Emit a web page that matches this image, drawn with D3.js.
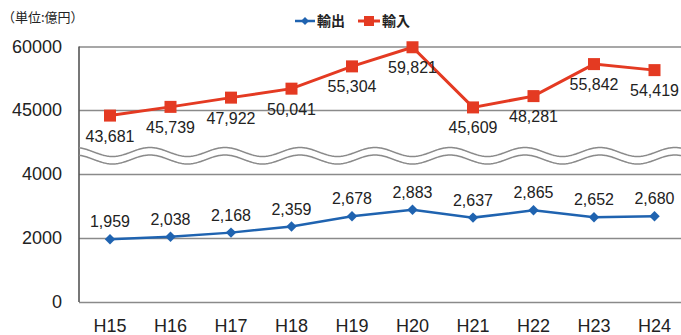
<!DOCTYPE html>
<html>
<head>
<meta charset="utf-8">
<script src="https://cdn.jsdelivr.net/npm/d3@7"></script>
<style>
  html, body { margin: 0; padding: 0; background: #fff; }
  svg { display: block; }
  text { font-family: "Liberation Sans", Arial, sans-serif; fill: #222; }
  .cjk { font-family: "Noto Sans CJK JP", "Noto Sans", sans-serif; }
</style>
</head>
<body>
<svg id="chart" width="681" height="335"></svg>
<script>
// Fiscal years (Heisei era)
const categories = ["H15", "H16", "H17", "H18", "H19", "H20", "H21", "H22", "H23", "H24"];
// Exports (輸出), 100 million yen
const exportsValues = [1959, 2038, 2168, 2359, 2678, 2883, 2637, 2865, 2652, 2680];
// Imports (輸入), 100 million yen
const importsValues = [43681, 45739, 47922, 50041, 55304, 59821, 45609, 48281, 55842, 54419];
// Axis ticks for the upper and lower (broken) segments
const upperTicks = [45000, 60000];
const lowerTicks = [0, 2000, 4000];

const svg = d3.select("#chart");
const W = 681;
const left = 79;
const blue = "#1f63b0";
const red = "#e43a22";
const gridColor = "#8a8a8a";

const x = d3.scalePoint().domain(categories).range([110, 654.5]);
const yUpper = d3.scaleLinear().domain([45000, 60000]).range([110, 46.5]);
const yLower = d3.scaleLinear().domain([0, 4000]).range([302, 174]);

const fmt = d3.format(",");

// Gridlines and tick labels via axes
function drawAxis(scale, ticks) {
  const g = svg.append("g").attr("transform", `translate(${left},0)`)
    .call(d3.axisLeft(scale).tickValues(ticks).tickSizeInner(-(W - left + 10)).tickSizeOuter(0)
      .tickPadding(17).tickFormat(d3.format("d")));
  g.select(".domain").remove();
  g.selectAll(".tick line").attr("stroke", gridColor).attr("stroke-width", 1.6);
  g.selectAll(".tick text").attr("font-size", 18).attr("fill", "#222")
    .style("font-family", "'Liberation Sans', Arial, sans-serif");
  return g;
}
drawAxis(yUpper, upperTicks);
drawAxis(yLower, lowerTicks);

// Left axis line
svg.append("line").attr("x1", left).attr("x2", left)
  .attr("y1", yUpper(60000)).attr("y2", yLower(0))
  .attr("stroke", "#555").attr("stroke-width", 1.6);

// Wavy break marks between the two segments
const wavePeriod = 75, waveAmp = 4.5;
function wavePath(cy) {
  const pts = d3.range(left, W + 2, 1).map(px => [px, cy - waveAmp * Math.cos((px - 300) / wavePeriod * 2 * Math.PI)]);
  return d3.line()(pts);
}
[152, 159.5].forEach(cy => {
  svg.append("path").attr("d", wavePath(cy)).attr("fill", "none")
    .attr("stroke", gridColor).attr("stroke-width", 1.5);
});

// X axis labels
svg.append("g").selectAll("text").data(categories).join("text")
  .attr("x", d => x(d)).attr("y", 332).attr("text-anchor", "middle")
  .attr("font-size", 18).text(d => d);

// Imports series
const importsData = categories.map((c, i) => ({ c, v: importsValues[i] }));
svg.append("path").datum(importsData)
  .attr("d", d3.line().x(d => x(d.c)).y(d => yUpper(d.v)))
  .attr("fill", "none").attr("stroke", red).attr("stroke-width", 3);
svg.append("g").selectAll("rect").data(importsData).join("rect")
  .attr("x", d => x(d.c) - 6).attr("y", d => yUpper(d.v) - 6)
  .attr("width", 12).attr("height", 12).attr("fill", red);
svg.append("g").selectAll("text").data(importsData).join("text")
  .attr("x", d => x(d.c)).attr("y", d => yUpper(d.v) + 26)
  .attr("text-anchor", "middle").attr("font-size", 16).text(d => fmt(d.v));

// Exports series
const exportsData = categories.map((c, i) => ({ c, v: exportsValues[i] }));
svg.append("path").datum(exportsData)
  .attr("d", d3.line().x(d => x(d.c)).y(d => yLower(d.v)))
  .attr("fill", "none").attr("stroke", blue).attr("stroke-width", 2.5);
const diamond = d3.symbol().type(d3.symbolDiamond2).size(70);
svg.append("g").selectAll("path").data(exportsData).join("path")
  .attr("transform", d => `translate(${x(d.c)},${yLower(d.v)})`)
  .attr("d", diamond).attr("fill", blue);
svg.append("g").selectAll("text").data(exportsData).join("text")
  .attr("x", d => x(d.c)).attr("y", d => yLower(d.v) - 12)
  .attr("text-anchor", "middle").attr("font-size", 16).text(d => fmt(d.v));

// Unit label
svg.append("text").attr("class", "cjk").attr("x", 2).attr("y", 22)
  .attr("font-size", 13).attr("fill", "#333").text("（単位:億円）");

// Legend
const legend = svg.append("g").attr("transform", "translate(0,21)");
legend.append("line").attr("x1", 295).attr("x2", 315).attr("stroke", blue).attr("stroke-width", 2.5);
legend.append("path").attr("transform", "translate(305,0)")
  .attr("d", d3.symbol().type(d3.symbolDiamond2).size(40)).attr("fill", blue);
legend.append("text").attr("class", "cjk").attr("x", 317).attr("y", 5)
  .attr("font-size", 14).attr("font-weight", 700).attr("fill", "#333").text("輸出");
legend.append("line").attr("x1", 358).attr("x2", 380).attr("stroke", red).attr("stroke-width", 3);
legend.append("rect").attr("x", 364).attr("y", -5).attr("width", 10).attr("height", 10).attr("fill", red);
legend.append("text").attr("class", "cjk").attr("x", 382).attr("y", 5)
  .attr("font-size", 14).attr("font-weight", 700).attr("fill", "#333").text("輸入");
</script>
</body>
</html>
